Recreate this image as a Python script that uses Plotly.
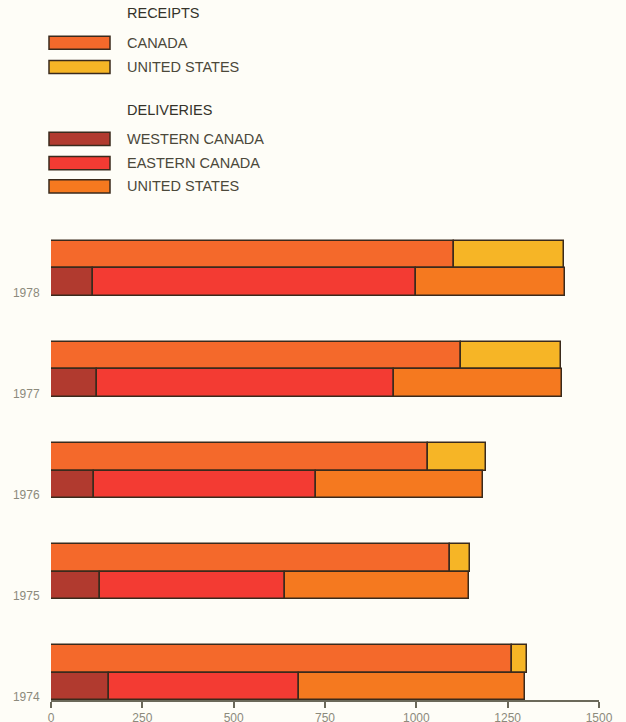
import numpy as np
import plotly.graph_objects as go

# ---- data ----
years = ["1974", "1975", "1976", "1977", "1978"]
receipts_canada = [1263, 1091, 1031, 1122, 1104]
receipts_us = [39, 57, 160, 274, 300]
deliv_western = [158, 133, 117, 126, 116]
deliv_eastern = [521, 508, 608, 814, 884]
deliv_us = [619, 503, 457, 460, 408]
x_ticks = [0, 250, 500, 750, 1000, 1250, 1500]

# ---- styles ----
C_REC_CAN = "#f4692b"
C_REC_US = "#f6b526"
C_WEST = "#b13a2f"
C_EAST = "#f33b33"
C_DEL_US = "#f5791f"
OUTLINE = "#3a2a1c"
TEXT = "#4b483a"
GREY = "#8c8a7c"
BG = "#fefdf7"

# vertical layout compensation for the capture
VS, VOFF = 0.97, 7.0

def fy(ref_y):
    return (ref_y - VOFF) / VS

W = 626
H = int(round(fy(722)))
ML, MR = 51, 27
MT = int(round(fy(230)))
MB = H - int(round(fy(695)))
BAR_H = 0.27

idx = np.arange(len(years))
y_del = idx + BAR_H / 2
y_rec = idx + BAR_H * 1.5

fig = go.Figure()

def add_stack(series, ypos, colors, names):
    base = np.zeros(len(years))
    for vals, col, nm in zip(series, colors, names):
        vals = np.array(vals, dtype=float)
        fig.add_trace(go.Bar(
            x=vals, y=ypos, base=base, orientation="h", width=BAR_H,
            marker=dict(color=col, line=dict(color=OUTLINE, width=1.5)),
            name=nm, showlegend=False, hoverinfo="x+name"))
        base = base + vals

add_stack([receipts_canada, receipts_us], y_rec, [C_REC_CAN, C_REC_US],
          ["Receipts: Canada", "Receipts: United States"])
add_stack([deliv_western, deliv_eastern, deliv_us], y_del, [C_WEST, C_EAST, C_DEL_US],
          ["Deliveries: Western Canada", "Deliveries: Eastern Canada", "Deliveries: United States"])

# ---- hand-drawn legend (reference pixel positions converted to paper coords) ----
pw = W - ML - MR
ph = H - MT - MB

def px(x):
    return (x - ML) / pw

def py(ref_y):
    return (H - MB - fy(ref_y)) / ph

shapes = []
annotations = []

def heading(text, yc):
    annotations.append(dict(x=px(125), y=py(yc), xref="paper", yref="paper", text=text,
                            showarrow=False, xanchor="left", yanchor="middle",
                            font=dict(family="Liberation Sans", size=14.5, color="#35332a")))

def item(text, color, yc):
    shapes.append(dict(type="rect", xref="paper", yref="paper",
                       x0=px(49), x1=px(110), y0=py(yc - 6.5), y1=py(yc + 6.5),
                       fillcolor=color, line=dict(color=OUTLINE, width=1.5)))
    annotations.append(dict(x=px(125), y=py(yc), xref="paper", yref="paper", text=text,
                            showarrow=False, xanchor="left", yanchor="middle",
                            font=dict(family="Liberation Sans", size=14.5, color=TEXT)))

heading("RECEIPTS", 16)
item("CANADA", C_REC_CAN, 45)
item("UNITED STATES", C_REC_US, 69)
heading("DELIVERIES", 111)
item("WESTERN CANADA", C_WEST, 140)
item("EASTERN CANADA", C_EAST, 164)
item("UNITED STATES", C_DEL_US, 187)

fig.update_layout(
    width=W, height=H,
    margin=dict(l=ML, r=MR, t=MT, b=MB),
    paper_bgcolor=BG, plot_bgcolor=BG,
    barmode="overlay", bargap=0,
    showlegend=False,
    shapes=shapes, annotations=annotations,
    xaxis=dict(range=[0, 1500], tickvals=x_ticks, ticktext=[str(t) for t in x_ticks],
               showgrid=False, zeroline=False, showline=True, linecolor="#6b695a", linewidth=1.5,
               ticks="outside", ticklen=6, tickwidth=1.5, tickcolor="#6b695a",
               tickfont=dict(family="Liberation Sans", size=12, color=GREY), fixedrange=True),
    yaxis=dict(range=[0, 4.65], tickvals=idx + 0.03, ticktext=years,
               showgrid=False, zeroline=False, showline=False,
               ticks="outside", ticklen=8, tickcolor="rgba(0,0,0,0)",
               tickfont=dict(family="Liberation Sans", size=12, color=GREY), fixedrange=True),
)

css = "margin:0;padding:0;overflow:hidden;background:%s;" % BG
fig.write_html(
    "out.html",
    config={"displayModeBar": False},
    post_script="document.documentElement.style.cssText='" + css + "';"
                "document.body.style.cssText='" + css + "';",
)
